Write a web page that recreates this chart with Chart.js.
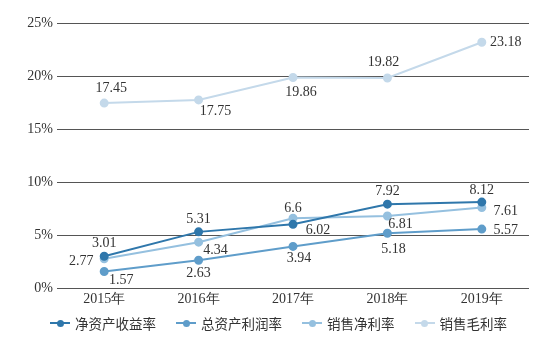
<!DOCTYPE html>
<html>
<head>
<meta charset="utf-8">
<script src="https://cdn.jsdelivr.net/npm/chart.js@4/dist/chart.umd.min.js"></script>
<style>
  html, body { margin: 0; padding: 0; background: #fff; }
  #wrap { width: 557px; height: 343px; position: relative; }
  #legend {
    position: absolute; left: 0; top: 313px; width: 557px; height: 20px;
    display: flex; justify-content: center; align-items: center;
    font-family: 'Noto Sans CJK SC', sans-serif; font-size: 13.5px; color: #333;
  }
  .item { display: flex; align-items: center; margin: 0 10px; }
  .mark { position: relative; width: 20px; height: 8px; margin-right: 5px; }
  .mark .ln { position: absolute; left: 0; right: 0; top: 3px; height: 2px; }
  .mark .dot { position: absolute; left: 6.5px; top: 0.5px; width: 7px; height: 7px; border-radius: 50%; }
</style>
</head>
<body>
<div id="wrap"><canvas id="chart"></canvas><div id="legend"></div></div>
<script>
// data
const years = ["2015年", "2016年", "2017年", "2018年", "2019年"];
const roe = [3.01, 5.31, 6.02, 7.92, 8.12];          // 净资产收益率
const roa = [1.57, 2.63, 3.94, 5.18, 5.57];          // 总资产利润率
const netMargin = [2.77, 4.34, 6.6, 6.81, 7.61];     // 销售净利率
const grossMargin = [17.45, 17.75, 19.86, 19.82, 23.18]; // 销售毛利率
const yTicks = [0, 5, 10, 15, 20, 25];

// label offsets from each point (px), style only
const labelOffsets = [
    [[0, -13], [0, -13], [25, 6], [0, -13], [0, -12]],
    [[17, 9], [0, 13], [6, 12], [6, 16], [24, 1]],
    [[-23, 3], [17, 8], [0, -10], [13, 8], [24, 4]],
    [[7, -15], [17, 11], [8, 15], [-4, -16], [24, 0]],
];

const colors = ["#2f77ab", "#5f9dca", "#95c0df", "#c4d9ea"];
const serif = "'Liberation Serif', 'Times New Roman', serif";

const pointLabels = {
    id: "pointLabels",
    afterDatasetsDraw(chart) {
        const ctx = chart.ctx;
        ctx.save();
        ctx.font = "14px " + serif;
        ctx.fillStyle = "#333";
        ctx.textAlign = "center";
        ctx.textBaseline = "middle";
        chart.data.datasets.forEach((ds, i) => {
            chart.getDatasetMeta(i).data.forEach((pt, j) => {
                const off = labelOffsets[i][j];
                ctx.fillText(String(ds.data[j]), pt.x + off[0], pt.y + off[1]);
            });
        });
        ctx.restore();
    },
};

function series(label, data, color) {
    return {
        label: label,
        data: data,
        borderColor: color,
        backgroundColor: color,
        borderWidth: 2,
        pointRadius: 3.5,
        pointHoverRadius: 3.5,
        pointStyle: "circle",
        tension: 0,
    };
}

const chart = new Chart(document.getElementById("chart"), {
    type: "line",
    data: {
        labels: years,
        datasets: [
            series("净资产收益率", roe, colors[0]),
            series("总资产利润率", roa, colors[1]),
            series("销售净利率", netMargin, colors[2]),
            series("销售毛利率", grossMargin, colors[3]),
        ],
    },
    options: {
        responsive: true,
        maintainAspectRatio: false,
        animation: false,
        events: [],
        layout: { padding: { left: 4, right: 28, top: 23, bottom: 32 } },
        scales: {
            x: {
                offset: true,
                grid: { display: false, drawTicks: false },
                border: { display: false },
                ticks: { color: "#333", font: { family: serif, size: 14 }, padding: 3 },
            },
            y: {
                min: 0,
                max: 25,
                afterBuildTicks(scale) {
                    scale.ticks = yTicks.map((v) => ({ value: v }));
                },
                afterFit(scale) { scale.width = 53; },
                grid: { color: "#555", lineWidth: 1, drawTicks: false },
                border: { display: false },
                ticks: {
                    color: "#333",
                    font: { family: serif, size: 14 },
                    padding: 4,
                    callback: (v) => v + "%",
                },
            },
        },
        plugins: {
            legend: { display: false },
            tooltip: { enabled: false },
        },
    },
    plugins: [pointLabels],
});

// legend built from the datasets
const legend = document.getElementById("legend");
chart.data.datasets.forEach((ds) => {
    const item = document.createElement("div");
    item.classList.add("item");
    item.innerHTML = `
        <span class="mark"><span class="ln" style="background:${ds.borderColor}"></span><span class="dot" style="background:${ds.borderColor}"></span></span>
        <span>${ds.label}</span>
    `;
    legend.appendChild(item);
});
</script>
</body>
</html>
